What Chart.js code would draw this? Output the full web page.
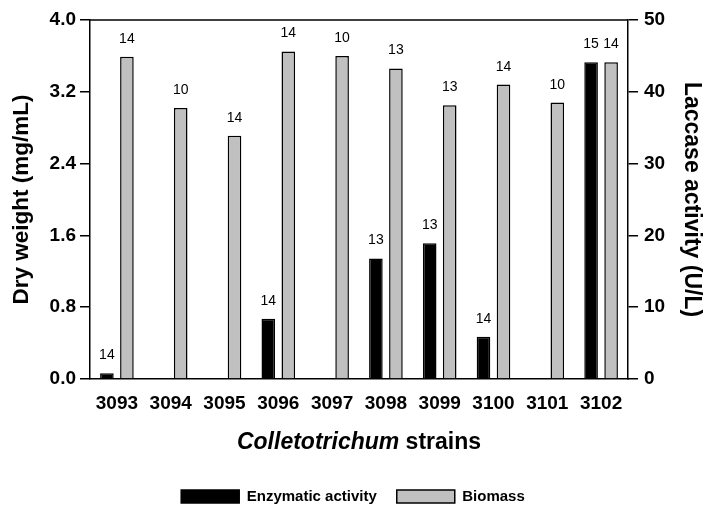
<!DOCTYPE html>
<html><head><meta charset="utf-8">
<script src="https://cdn.jsdelivr.net/npm/chart.js@4/dist/chart.umd.min.js"></script>
<style>html,body{margin:0;padding:0;background:#fff}#wrap{width:706px;height:514px;position:relative}</style>
</head><body><div id="wrap"><canvas id="c" width="706" height="514"></canvas></div>
<script>
const strains = ['3093','3094','3095','3096','3097','3098','3099','3100','3101','3102'];
const biomass = [3.59,3.02,2.71,3.65,3.60,3.46,3.05,3.28,3.08,3.53];
const enzymatic = [0.8,0,0,8.4,0,16.8,18.9,5.9,0,44.1];
const biomassN = [14,10,14,14,10,13,13,14,10,14];
const enzymaticN = [14,null,null,14,null,13,13,14,null,15];
const leftTicks = [0,0.8,1.6,2.4,3.2,4.0];
const rightTicks = [0,10,20,30,40,50];

const FF = "'Liberation Sans',Arial,sans-serif";

const extras = {
  id:'extras',
  afterDatasetsDraw(chart){
    const ctx = chart.ctx, ca = chart.chartArea;
    ctx.save();
    // top border of the plot frame
    ctx.strokeStyle='#000'; ctx.lineWidth=1.5;
    ctx.beginPath(); ctx.moveTo(ca.left, ca.top); ctx.lineTo(ca.right, ca.top); ctx.stroke();
    // sample-count labels above bars
    ctx.fillStyle='#000'; ctx.textAlign='center'; ctx.textBaseline='alphabetic';
    ctx.font = "14px "+FF;
    [enzymaticN, biomassN].forEach((ns, di)=>{
      chart.getDatasetMeta(di).data.forEach((bar,i)=>{
        if(ns[i]==null) return;
        ctx.fillText(String(ns[i]), bar.x, bar.y-14);
      });
    });
    // x-axis title with italic genus name
    const y = 443;
    ctx.textBaseline='middle'; ctx.textAlign='left';
    const f1 = "italic bold 23px "+FF, f2 = "bold 23px "+FF;
    ctx.font=f1; const w1 = ctx.measureText('Colletotrichum').width;
    ctx.font=f2; const w2 = ctx.measureText(' strains').width;
    const x0 = (ca.left+ca.right)/2-(w1+w2)/2;
    ctx.font=f1; ctx.fillText('Colletotrichum', x0, y);
    ctx.font=f2; ctx.fillText(' strains', x0+w1, y);
    ctx.restore();
  }
};

new Chart(document.getElementById('c'), {
  type:'bar',
  data:{
    labels: strains,
    datasets:[
      {label:'Enzymatic activity', data: enzymatic, yAxisID:'y1', backgroundColor:'#000', borderColor:'#000', borderWidth:1.5,
       categoryPercentage:0.744, barPercentage:0.68},
      {label:'Biomass', data: biomass, yAxisID:'y', backgroundColor:'#c0c0c0', borderColor:'#000', borderWidth:1.5,
       categoryPercentage:0.744, barPercentage:0.68}
    ]
  },
  options:{
    responsive:false, animation:false, devicePixelRatio:1,
    layout:{padding:{top:20,left:0,right:0,bottom:0}},
    plugins:{
      tooltip:{enabled:false},
      legend:{position:'bottom',
        labels:{color:'#000', font:{family:FF, weight:'bold', size:15}, boxWidth:58, boxHeight:13, padding:20}}
    },
    scales:{
      x:{
        grid:{display:false},
        border:{display:true, color:'#000', width:1.5},
        ticks:{color:'#000', font:{family:FF, weight:'bold', size:19}, padding:5},
        afterFit(s){ s.height = 90; }
      },
      y:{
        position:'left', min:0, max:4,
        afterBuildTicks(s){ s.ticks = leftTicks.map(v=>({value:v})); },
        grid:{display:true, drawOnChartArea:false, drawTicks:true, tickLength:10, color:'#000', lineWidth:1.5},
        border:{display:true, color:'#000', width:1.5},
        ticks:{color:'#000', font:{family:FF, weight:'bold', size:19}, padding:4, callback:v=>v.toFixed(1)},
        title:{display:true, text:'Dry weight (mg/mL)', color:'#000', font:{family:FF, weight:'bold', size:22.5}, padding:{top:8,bottom:0}},
        afterFit(s){ s.width = 90; }
      },
      y1:{
        position:'right', min:0, max:50,
        afterBuildTicks(s){ s.ticks = rightTicks.map(v=>({value:v})); },
        grid:{display:true, drawOnChartArea:false, drawTicks:true, tickLength:10, color:'#000', lineWidth:1.5},
        border:{display:true, color:'#000', width:1.5},
        ticks:{color:'#000', font:{family:FF, weight:'bold', size:19}, padding:6, callback:v=>String(v)},
        title:{display:true, text:'Laccase activity (U/L)', color:'#000', font:{family:FF, weight:'bold', size:23}, padding:{top:1,bottom:0}},
        afterFit(s){ s.width = 78; }
      }
    }
  },
  plugins:[extras]
});
</script>
</body></html>
